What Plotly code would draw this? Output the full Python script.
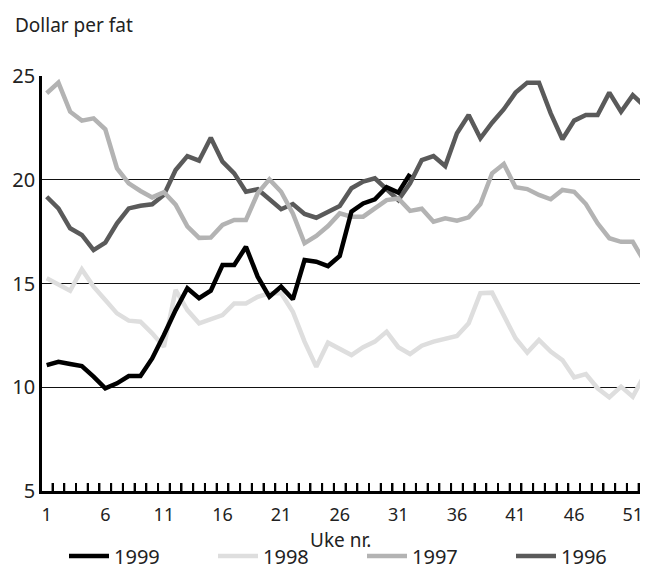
import plotly.graph_objects as go

weeks = list(range(1, 53))

y1999 = [11.07, 11.23, 11.12, 11.02, 10.51, 9.95, 10.19, 10.54, 10.54, 11.39,
         12.52, 13.72, 14.77, 14.29, 14.65, 15.89, 15.89, 16.77, 15.33, 14.36,
         14.85, 14.24, 16.13, 16.05, 15.84, 16.33, 18.46, 18.86, 19.06, 19.64,
         19.38, 20.28]

y1998 = [15.25, 14.93, 14.65, 15.68, 14.85, 14.20, 13.56, 13.21, 13.16, 12.60,
         11.95, 14.69, 13.72, 13.08, 13.27, 13.48, 14.04, 14.04, 14.36, 14.53,
         14.53, 13.64, 12.20, 10.99, 12.15, 11.83, 11.55, 11.93, 12.20, 12.68,
         11.93, 11.60, 12.00, 12.20, 12.36, 12.47, 13.08, 14.53, 14.56, 13.48,
         12.36, 11.67, 12.28, 11.72, 11.31, 10.48, 10.64, 9.95, 9.52, 10.03,
         9.54, 10.59]

y1997 = [24.17, 24.68, 23.28, 22.85, 22.96, 22.43, 20.55, 19.83, 19.46, 19.15,
         19.40, 18.80, 17.75, 17.20, 17.22, 17.82, 18.06, 18.06, 19.35, 20.02,
         19.42, 18.38, 16.94, 17.29, 17.77, 18.38, 18.22, 18.22, 18.62, 19.02,
         19.10, 18.50, 18.60, 17.98, 18.14, 18.03, 18.19, 18.83, 20.31, 20.76,
         19.64, 19.55, 19.27, 19.06, 19.51, 19.42, 18.83, 17.90, 17.18, 17.01,
         17.01, 16.05]

y1996 = [19.18, 18.62, 17.66, 17.34, 16.61, 16.97, 17.90, 18.62, 18.75, 18.82,
         19.27, 20.47, 21.14, 20.92, 22.02, 20.87, 20.31, 19.42, 19.54, 19.06,
         18.58, 18.83, 18.35, 18.17, 18.46, 18.73, 19.59, 19.91, 20.07, 19.51,
         19.02, 19.83, 20.95, 21.14, 20.66, 22.24, 23.12, 22.00, 22.75, 23.40,
         24.20, 24.68, 24.68, 23.20, 21.95, 22.85, 23.12, 23.12, 24.20, 23.28,
         24.08, 23.55]

x_ticks = [1, 6, 11, 16, 21, 26, 31, 36, 41, 46, 51]
week_bounds = [w + 0.5 for w in weeks]
y_ticks = [5, 10, 15, 20, 25]

FONT = "Noto Sans"
TXT = "#222222"
X_RANGE = [0.6, 52.3]

# the page body has an 8px margin, so the figure is drawn 8px smaller
W, H = 640, 558

fig = go.Figure()
series = [
    ("1999", y1999, "#000000"),
    ("1998", y1998, "#dedede"),
    ("1997", y1997, "#b3b3b3"),
    ("1996", y1996, "#5a5a5a"),
]
for name, ys, col in reversed(series):
    fig.add_trace(go.Scatter(
        x=weeks[:len(ys)], y=ys, mode="lines", name=name,
        line=dict(color=col, width=4.5), cliponaxis=False,
    ))

# empty helper trace on the overlay axis that carries the weekly tick marks
fig.add_trace(go.Scatter(x=[], y=[], xaxis="x2", yaxis="y", showlegend=False,
                         hoverinfo="skip"))

# weekly tick marks standing up from the x axis (one per week boundary)
tick_shapes = [
    dict(type="line", xref="x", yref="paper", ysizemode="pixel", yanchor=0,
         x0=b, x1=b, y0=0, y1=8, line=dict(color="black", width=2), layer="above")
    for b in week_bounds if X_RANGE[0] < b < X_RANGE[1]
]

fig.update_layout(
    width=W, height=H,
    margin=dict(l=34, r=0, t=68, b=75),
    plot_bgcolor="white", paper_bgcolor="white",
    font=dict(family=FONT, color=TXT, size=17),
    showlegend=True,
    legend=dict(
        orientation="h", traceorder="reversed",
        xref="container", yref="container",
        x=56 / W, y=1 - 548 / H, xanchor="left", yanchor="middle",
        entrywidth=94, entrywidthmode="pixels", itemwidth=40,
        font=dict(size=20, family=FONT, color=TXT), bgcolor="rgba(0,0,0,0)",
    ),
    shapes=tick_shapes,
    xaxis=dict(
        range=X_RANGE, automargin=False,
        tickmode="array", tickvals=x_ticks, ticktext=[str(v) for v in x_ticks],
        ticks="", showgrid=False, zeroline=False,
        showline=True, linecolor="black", linewidth=3,
        tickfont=dict(size=18, family=FONT, color=TXT),
        ticklabelstandoff=5,
    ),
    xaxis2=dict(
        range=X_RANGE, overlaying="x", anchor="y", side="bottom",
        automargin=False,
        tickmode="array", tickvals=week_bounds, showticklabels=False,
        ticks="inside", ticklen=8, tickwidth=2, tickcolor="black",
        showgrid=False, zeroline=False, showline=False,
    ),
    yaxis=dict(
        range=[5, 25], automargin=False,
        tickmode="array", tickvals=y_ticks, ticktext=[str(v) for v in y_ticks],
        ticks="", showgrid=True, gridcolor="#111111", gridwidth=1.2,
        zeroline=False, showline=True, linecolor="black", linewidth=2.5,
        tickfont=dict(size=20, family=FONT, color=TXT),
        ticklabelstandoff=0,
    ),
    annotations=[
        dict(text="Dollar per fat", xref="paper", yref="paper",
             x=(13 - 42) / 606, y=1 + 51 / 415, xanchor="left", yanchor="middle",
             showarrow=False, font=dict(size=19, family=FONT, color=TXT)),
        dict(text="Uke nr.", xref="paper", yref="paper",
             x=(340 - 42) / 606, y=-(540 - 491) / 415, xanchor="center", yanchor="middle",
             showarrow=False, font=dict(size=19, family=FONT, color=TXT)),
    ],
)

fig.write_html("out.html")
